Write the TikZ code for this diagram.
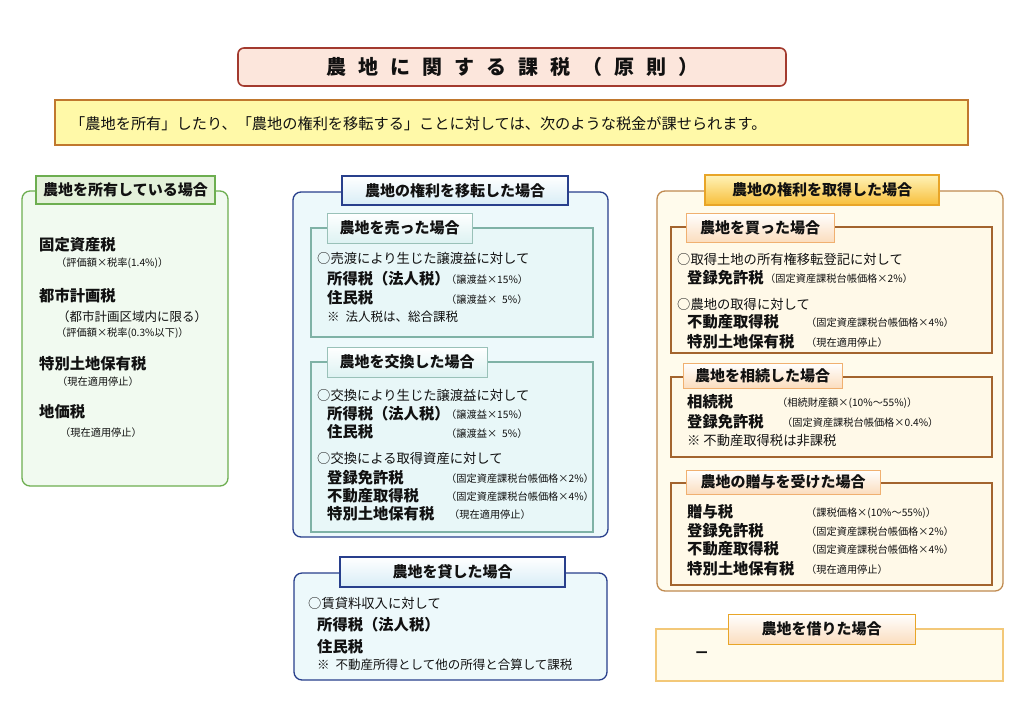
\documentclass[tikz,border=0pt]{standalone}
\usepackage{fontspec}
\setmainfont{Noto Sans CJK JP}
\usetikzlibrary{fit}
\definecolor{ttlfill}{HTML}{FCE6DC}
\definecolor{ttlline}{HTML}{A33A2E}
\definecolor{banfill}{HTML}{FFF9A8}
\definecolor{banline}{HTML}{C0782E}
\definecolor{gfill}{HTML}{F1FAF0}
\definecolor{gline}{HTML}{6DAE50}
\definecolor{ghfill}{HTML}{E3F1DA}
\definecolor{bfill}{HTML}{EDF9FB}
\definecolor{bline}{HTML}{283F8C}
\definecolor{bhfill}{HTML}{D8EDF6}
\definecolor{sbline}{HTML}{7FB2A6}
\definecolor{sbfill}{HTML}{E8F7F8}
\definecolor{sbhfill}{HTML}{DDF2F2}
\definecolor{ofill}{HTML}{FFFBEC}
\definecolor{oline}{HTML}{C08A50}
\definecolor{ohtop}{HTML}{FFF3B8}
\definecolor{ohbot}{HTML}{F7BE3A}
\definecolor{ohline}{HTML}{E8A528}
\definecolor{soline}{HTML}{A3642E}
\definecolor{sofill}{HTML}{FFF9E8}
\definecolor{sohbot}{HTML}{FBDDBE}
\definecolor{sohline}{HTML}{F0B070}
\definecolor{rline}{HTML}{F3C878}
\definecolor{txtc}{HTML}{111111}
\newcommand\tsp{\kern12pt}
\begin{document}
\begin{tikzpicture}[x=1pt,y=-1pt,
  every node/.style={text=txtc},
  box/.style={inner sep=0pt},
  titlebox/.style={box,draw=ttlline,line width=1.6pt,fill=ttlfill,rounded corners=6pt},
  banner/.style={box,draw=banline,line width=2pt,fill=banfill},
  panelG/.style={box,draw=gline,line width=1.3pt,fill=gfill,rounded corners=8pt},
  panelB/.style={box,draw=bline,line width=1.3pt,fill=bfill,rounded corners=8pt},
  panelO/.style={box,draw=oline,line width=1.3pt,fill=ofill,rounded corners=8pt},
  panelR/.style={box,draw=rline,line width=1.3pt,fill=ofill},
  subB/.style={box,draw=sbline,line width=1.1pt,fill=sbfill},
  subO/.style={box,draw=soline,line width=1.1pt,fill=sofill},
  hdr/.style={box},
  hdrG/.style={hdr,draw=gline,line width=1.2pt,fill=ghfill},
  hdrB/.style={hdr,draw=bline,line width=1.2pt,top color=white,bottom color=bhfill},
  hdrSB/.style={hdr,draw=sbline!80,line width=1pt,top color=white,bottom color=sbhfill},
  hdrO/.style={hdr,draw=ohline,line width=1.2pt,top color=ohtop,bottom color=ohbot},
  hdrSO/.style={hdr,draw=sohline,line width=1pt,top color=white,bottom color=sohbot},
  htxt/.style={inner sep=0pt,font=\fontsize{15}{17}\selectfont\bfseries},
  txt/.style={anchor=west,inner sep=0pt},
  big/.style={txt,font=\fontsize{15.3}{17}\selectfont\bfseries},
  mid/.style={txt,font=\fontsize{13.3}{15}\selectfont},
  note/.style={txt,font=\fontsize{12.5}{14}\selectfont},
  small/.style={txt,font=\fontsize{10.2}{12}\selectfont},
]
\useasboundingbox (0,0) rectangle (1024,723);
\fill[white] (0,0) rectangle (1024,723);

% title and banner
\node[titlebox,fit={(238,48)(786,86)}] (title) {};
\node[inner sep=0pt,font=\fontsize{20}{22}\selectfont\bfseries] (titletxt) at (title.center)
  {農\tsp 地\tsp に\tsp 関\tsp す\tsp る\tsp 課\tsp 税\tsp （\tsp 原\tsp 則\tsp ）};
\node[banner,fit={(55,100)(968,145)}] (ban) {};
\node[txt,font=\fontsize{15.2}{17}\selectfont] (bantxt) at (70,124)
  {「農地を所有」したり、「農地の権利を移転する」ことに対しては、次のような税金が課せられます。};

% left panel
\node[panelG,fit={(22,191)(228,486)}] (own) {};
\node[hdrG,fit={(36,176)(215,204)}] (ownH) {};
\node[htxt] (ownHt) at (ownH.center) {農地を所有している場合};
\node[big] (l1) at (39,245) {固定資産税};
\node[small] (l2) at (56,263) {（評価額×税率(1.4\%)）};
\node[big] (l3) at (39,296) {都市計画税};
\node[note] (l4) at (57,317) {（都市計画区域内に限る）};
\node[small] (l5) at (56,333) {（評価額×税率(0.3\%以下)）};
\node[big] (l6) at (39,364) {特別土地保有税};
\node[small] (l7) at (57,382) {（現在適用停止）};
\node[big] (l8) at (39,412) {地価税};
\node[small] (l9) at (60,433) {（現在適用停止）};

% middle panel
\node[panelB,fit={(293,192)(608,537)}] (trans) {};
\node[hdrB,fit={(342,176)(568,205)}] (transH) {};
\node[htxt] (transHt) at (transH.center) {農地の権利を移転した場合};
\node[subB,fit={(311,228)(593,337)}] (sell) {};
\node[hdrSB,fit={(327,213)(472,243)}] (sellH) {};
\node[htxt] (sellHt) at (sellH.center) {農地を売った場合};
\node[mid] (m1) at (317,258) {○売渡により生じた譲渡益に対して};
\node[big] (m2) at (327,279) {所得税（法人税）};
\node[small] (m3) at (446,280) {（譲渡益×15\%）};
\node[big] (m4) at (327,298) {住民税};
\node[small] (m5) at (446,300) {（譲渡益×\kern5pt 5\%）};
\node[note] (m6) at (327,317) {※\kern6pt 法人税は、総合課税};

\node[subB,fit={(311,362)(593,532)}] (exch) {};
\node[hdrSB,fit={(327,347)(487,377)}] (exchH) {};
\node[htxt] (exchHt) at (exchH.center) {農地を交換した場合};
\node[mid] (e1) at (317,395) {○交換により生じた譲渡益に対して};
\node[big] (e2) at (327,414) {所得税（法人税）};
\node[small] (e3) at (446,415) {（譲渡益×15\%）};
\node[big] (e4) at (327,432) {住民税};
\node[small] (e5) at (446,434) {（譲渡益×\kern5pt 5\%）};
\node[mid] (e6) at (317,458) {○交換による取得資産に対して};
\node[big] (e7) at (327,478) {登録免許税};
\node[small] (e8) at (446,479) {（固定資産課税台帳価格×2\%）};
\node[big] (e9) at (327,496) {不動産取得税};
\node[small] (e10) at (446,497) {（固定資産課税台帳価格×4\%）};
\node[big] (e11) at (327,514) {特別土地保有税};
\node[small] (e12) at (449,515) {（現在適用停止）};

% bottom middle
\node[panelB,fit={(294,573)(607,680)}] (lend) {};
\node[hdrB,fit={(340,557)(565,587)}] (lendH) {};
\node[htxt] (lendHt) at (lendH.center) {農地を貸した場合};
\node[mid] (d1) at (308,603) {○賃貸料収入に対して};
\node[big] (d2) at (317,625) {所得税（法人税）};
\node[big] (d3) at (317,647) {住民税};
\node[note] (d4) at (317,665) {※\kern6pt 不動産所得として他の所得と合算して課税};

% right panel
\node[panelO,fit={(657,191)(1003,591)}] (acq) {};
\node[hdrO,fit={(705,175)(939,205)}] (acqH) {};
\node[htxt] (acqHt) at (acqH.center) {農地の権利を取得した場合};
\node[subO,fit={(671,227)(992,353)}] (buy) {};
\node[hdrSO,fit={(686,213)(834,242)}] (buyH) {};
\node[htxt] (buyHt) at (buyH.center) {農地を買った場合};
\node[mid] (r1) at (677,259) {○取得土地の所有権移転登記に対して};
\node[big] (r2) at (687,278) {登録免許税};
\node[small] (r3) at (765,279) {（固定資産課税台帳価格×2\%）};
\node[mid] (r4) at (677,304) {○農地の取得に対して};
\node[big] (r5) at (687,322) {不動産取得税};
\node[small] (r6) at (806,323) {（固定資産課税台帳価格×4\%）};
\node[big] (r7) at (687,342) {特別土地保有税};
\node[small] (r8) at (806,343) {（現在適用停止）};

\node[subO,fit={(671,377)(992,457)}] (inh) {};
\node[hdrSO,fit={(683,363)(842,388)}] (inhH) {};
\node[htxt] (inhHt) at (inhH.center) {農地を相続した場合};
\node[big] (h1) at (687,402) {相続税};
\node[small] (h2) at (777,403) {（相続財産額×(10\%～55\%)）};
\node[big] (h3) at (687,422) {登録免許税};
\node[small] (h4) at (782,423) {（固定資産課税台帳価格×0.4\%）};
\node[mid] (h5) at (687,441) {※ 不動産取得税は非課税};

\node[subO,fit={(671,483)(992,585)}] (gift) {};
\node[hdrSO,fit={(686,470)(880,494)}] (giftH) {};
\node[htxt] (giftHt) at (giftH.center) {農地の贈与を受けた場合};
\node[big] (g1) at (687,512) {贈与税};
\node[small] (g2) at (806,513) {（課税価格×(10\%～55\%)）};
\node[big] (g3) at (687,531) {登録免許税};
\node[small] (g4) at (806,532) {（固定資産課税台帳価格×2\%）};
\node[big] (g5) at (687,549) {不動産取得税};
\node[small] (g6) at (806,550) {（固定資産課税台帳価格×4\%）};
\node[big] (g7) at (687,569) {特別土地保有税};
\node[small] (g8) at (806,570) {（現在適用停止）};

% bottom right
\node[panelR,fit={(656,629)(1003,681)}] (borrow) {};
\node[hdrSO,draw=ohline,fit={(728,614)(915,644)}] (borrowH) {};
\node[htxt] (borrowHt) at (borrowH.center) {農地を借りた場合};
\node[big] (b1) at (694,655) {－};
\end{tikzpicture}
\end{document}
